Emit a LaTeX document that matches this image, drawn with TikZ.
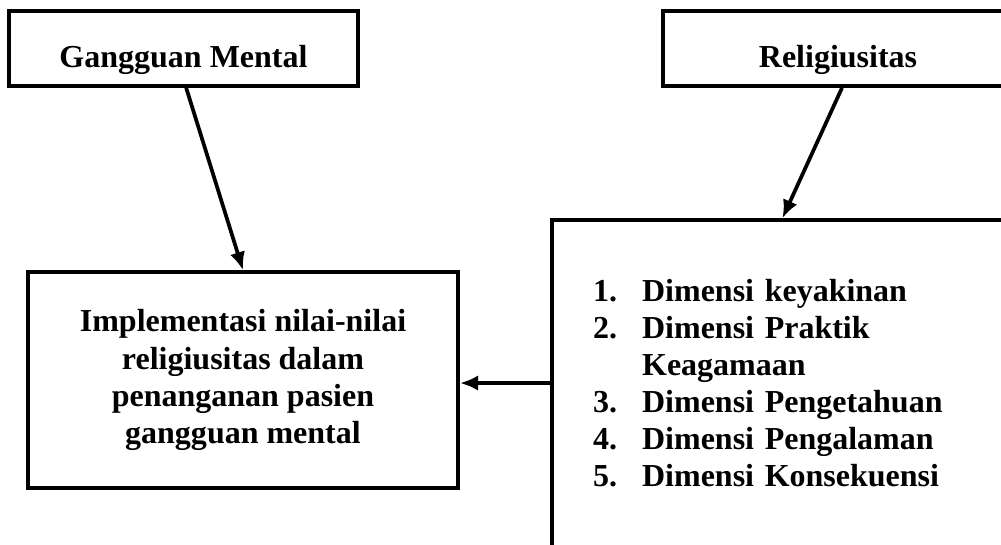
\documentclass[tikz,border=0pt]{standalone}
\usepackage{fontspec}
\setmainfont{Liberation Serif}
\usetikzlibrary{arrows.meta}

\begin{document}
\begin{tikzpicture}[x=0.375pt, y=-0.375pt,
    main/.style = {draw, rectangle, line width=1.4pt, font=\fontsize{12}{13.9}\selectfont\bfseries},
    link/.style = {-{Latex[length=6.8pt,width=5.8pt]}, line width=1.4pt}]
            \useasboundingbox (0,0) rectangle (1001,544);

            \node[main, minimum width=130.9pt, minimum height=28.1pt, text height=14.6pt, text depth=0pt] (GM) at (183.5,48.5) {Gangguan Mental};
            \node[main, minimum width=131.3pt, minimum height=28.1pt, text height=14.6pt, text depth=0pt] (Rel) at (838,48.5) {Religiusitas};

            \node[main, minimum width=161.3pt, minimum height=81pt, align=center] (Impl) at (243,380) {Implementasi nilai-nilai\\ religiusitas dalam\\ penanganan pasien\\ gangguan mental};
            \node[main, minimum width=172.9pt, minimum height=124.9pt, text width=142.1pt, align=left] (Dim) at (782.5,386.5) {%
                \begin{tabular}{@{}p{18.4pt}@{}l@{}}
                1. & Dimensi keyakinan\\
                2. & Dimensi Praktik\\
                   & Keagamaan\\
                3. & Dimensi Pengetahuan\\
                4. & Dimensi Pengalaman\\
                5. & Dimensi Konsekuensi
                \end{tabular}};

            \path[link] ([xshift=1pt]GM.south) edge (Impl.north);
            \path[link] ([xshift=1.5pt]Rel.south) edge (Dim.north);
            \path[link] ([yshift=1.3pt]Dim.west) edge ([yshift=1.3pt]Dim.west -| Impl.east);
\end{tikzpicture}
\end{document}
